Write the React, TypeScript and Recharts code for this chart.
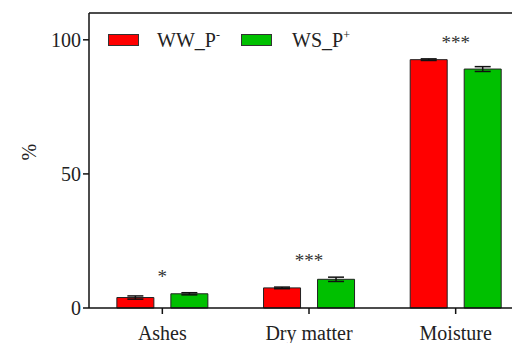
import { BarChart, Bar, XAxis, YAxis, ErrorBar, LabelList, ReferenceLine, Label } from 'recharts';

const categories = ['Ashes', 'Dry matter', 'Moisture'];
const wwValues = [3.9, 7.5, 92.6];
const wwErrors = [0.6, 0.3, 0.3];
const wsValues = [5.3, 10.7, 89.1];
const wsErrors = [0.4, 0.8, 0.9];
const significance = ['*', '***', '***'];
const yTicks = [0, 50, 100];

const data = categories.map((name, i) => ({
  name,
  ww: wwValues[i],
  wwErr: wwErrors[i],
  ws: wsValues[i],
  wsErr: wsErrors[i],
}));

const FONT = '"Liberation Serif", "Times New Roman", serif';

// stars sit above the taller bar of each group, centred on the category
const StarLabel = (props: any) => {
  const { x, y, width, height, value, index } = props;
  const base = y + height;
  const pxPerUnit = height / value;
  const top = Math.max(wwValues[index] + wwErrors[index], wsValues[index] + wsErrors[index]);
  const cx = x - 8.5;
  return (
    <text x={cx} y={base - top * pxPerUnit - 10} textAnchor="middle" fontFamily={FONT} fontSize={19} fill="#333">
      {significance[index]}
    </text>
  );
};

const LegendBox = () => (
  <div style={{ position: 'absolute', top: 20, left: 100, display: 'flex', alignItems: 'center', fontFamily: FONT, fontSize: 20, color: '#222' }}>
    <span style={{ width: 31, height: 12, background: '#ff0000', border: '1px solid #333', boxSizing: 'border-box', display: 'inline-block' }} />
    <span style={{ marginLeft: 18, width: 84 }}>WW_P<sup style={{ fontSize: 12 }}>-</sup></span>
    <span style={{ width: 31, height: 12, background: '#00c000', border: '1px solid #333', boxSizing: 'border-box', display: 'inline-block' }} />
    <span style={{ marginLeft: 20 }}>WS_P<sup style={{ fontSize: 12 }}>+</sup></span>
  </div>
);

export default function App() {
  return (
    <div style={{ width: 512, height: 335, overflow: 'hidden', position: 'relative' }}>
      <BarChart
        width={530}
        height={335}
        data={data}
        margin={{ top: 5, right: 9, left: 21, bottom: 0 }}
        barGap={17}
        barCategoryGap="19%"
      >
        <YAxis
          type="number"
          domain={[0, 110]}
          ticks={yTicks}
          width={60}
          axisLine={{ stroke: '#111', strokeWidth: 1.5 }}
          tickLine={{ stroke: '#111', strokeWidth: 1.5 }}
          tickSize={6}
          tickMargin={2}
          tick={{ fontFamily: FONT, fontSize: 20, fill: '#222' }}
        >
          <Label value="%" angle={-90} position="insideLeft" offset={0} style={{ fontFamily: FONT, fontSize: 20, fill: '#222' }} />
        </YAxis>
        <XAxis
          dataKey="name"
          height={35}
          axisLine={{ stroke: '#111', strokeWidth: 1.5 }}
          tickLine={{ stroke: '#111', strokeWidth: 1.5 }}
          tickSize={6}
          tickMargin={12}
          tick={{ fontFamily: FONT, fontSize: 20, fill: '#222' }}
        />
        <ReferenceLine y={110} stroke="#111" strokeWidth={1.5} />
        <Bar dataKey="ww" fill="#ff0000" stroke="#222" strokeWidth={1} isAnimationActive={false}>
          <ErrorBar dataKey="wwErr" width={8} stroke="#111" strokeWidth={1.5} direction="y" />
        </Bar>
        <Bar dataKey="ws" fill="#00c000" stroke="#222" strokeWidth={1} isAnimationActive={false}>
          <ErrorBar dataKey="wsErr" width={8} stroke="#111" strokeWidth={1.5} direction="y" />
          <LabelList dataKey="ws" content={<StarLabel />} />
        </Bar>
      </BarChart>
      <LegendBox />
    </div>
  );
}
